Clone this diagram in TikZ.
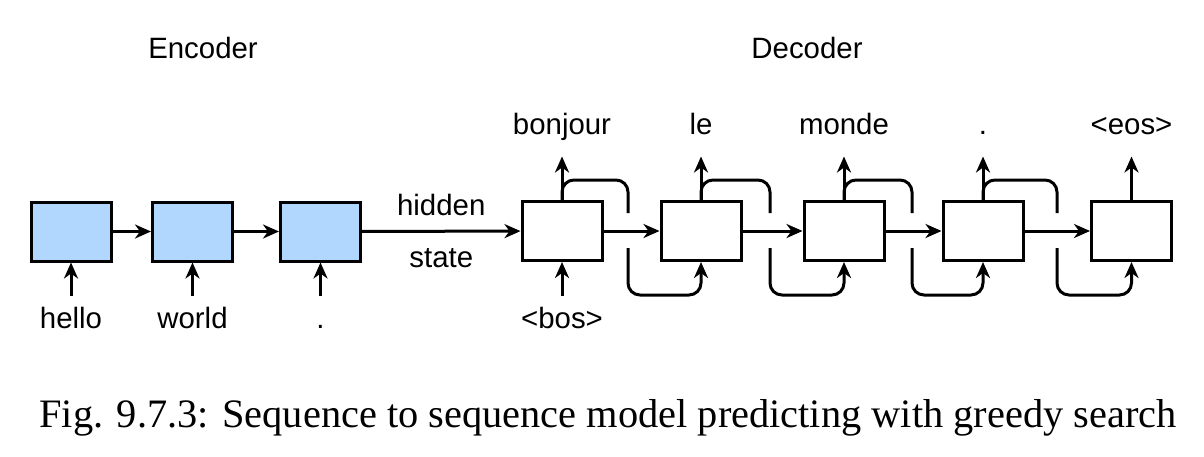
\documentclass[tikz,border=0pt]{standalone}
\usepackage{graphicx}
\usepackage{fontspec}
\setmainfont{Liberation Sans}
\newfontfamily\capfont{Liberation Serif}
\usetikzlibrary{arrows.meta}
\definecolor{encblue}{RGB}{178,215,255}

\begin{document}
\begin{tikzpicture}[x=.5pt,y=-.5pt,line width=1.5pt,
  >={Stealth[length=8pt,width=7pt,inset=2.5pt]},
  font=\fontsize{14.7}{17}\selectfont,
  rnn/.style={draw,minimum width=40pt,minimum height=29.5pt,inner sep=0pt},
  inword/.style={anchor=base,inner sep=0pt,text height=15.5pt},
  outword/.style={anchor=base,inner sep=0pt,text depth=10.5pt}]
\useasboundingbox (0,0) rectangle (1204,456);
\node[anchor=base] (enc) at (203,58) {Encoder};
\node[anchor=base] (dec) at (807,58) {Decoder};
% encoder
\node[rnn,fill=encblue] (e1) at (71,231.5) {};
\node[rnn,fill=encblue] (e2) at (192.5,231.5) {};
\node[rnn,fill=encblue] (e3) at (320.5,231.5) {};
\node[inword] (x1) at (71,328) {hello};
\node[inword] (x2) at (192.5,328) {world};
\node[inword] (x3) at (320.5,328) {.};
\draw[->] (x1.north) -- (e1.south);
\draw[->] (x2.north) -- (e2.south);
\draw[->] (x3.north) -- (e3.south);
\draw[->] (e1) -- (e2);
\draw[->] (e2) -- (e3);
% decoder
\node[rnn] (d1) at (562,231) {};
\node[rnn] (d2) at (701,231) {};
\node[rnn] (d3) at (844,231) {};
\node[rnn] (d4) at (983,231) {};
\node[rnn] (d5) at (1131.5,231) {};
\draw[->] (e3) -- (d1) node[midway,anchor=base,yshift=8pt] {hidden} node[midway,anchor=base,yshift=-18pt] {state};
\node[inword] (bos) at (562,328) {<bos>};
\draw[->] (bos.north) -- (d1.south);
\node[outword] (y1) at (562,134) {bonjour};
\node[outword] (y2) at (701,134) {le};
\node[outword] (y3) at (844,134) {monde};
\node[outword] (y4) at (983,134) {.};
\node[outword] (y5) at (1131.5,134) {<eos>};
\draw[->] (d1.north) -- (y1.south);
\draw[->] (d2.north) -- (y2.south);
\draw[->] (d3.north) -- (y3.south);
\draw[->] (d4.north) -- (y4.south);
\draw[->] (d5.north) -- (y5.south);
\draw[->] (d1) -- (d2);
\draw[->] (d2) -- (d3);
\draw[->] (d3) -- (d4);
\draw[->] (d4) -- (d5);
% feeding the prediction back in
\coordinate (g1) at (628,213); \coordinate (h1) at (628,248);
\coordinate (g2) at (770,213); \coordinate (h2) at (770,248);
\coordinate (g3) at (912,213); \coordinate (h3) at (912,248);
\coordinate (g4) at (1057,213); \coordinate (h4) at (1057,248);
\draw[rounded corners=6pt] (d1.north) -- ++(0,-20) -| (g1);
\draw[->,rounded corners=6pt] (h1) -- ++(0,47) -| (d2.south);
\draw[rounded corners=6pt] (d2.north) -- ++(0,-20) -| (g2);
\draw[->,rounded corners=6pt] (h2) -- ++(0,47) -| (d3.south);
\draw[rounded corners=6pt] (d3.north) -- ++(0,-20) -| (g3);
\draw[->,rounded corners=6pt] (h3) -- ++(0,47) -| (d4.south);
\draw[rounded corners=6pt] (d4.north) -- ++(0,-20) -| (g4);
\draw[->,rounded corners=6pt] (h4) -- ++(0,47) -| (d5.south);
% caption
\node[anchor=base west,inner sep=0pt] (cap) at (38,427) {\resizebox{568.5pt}{!}{\capfont\fontsize{20}{24}\selectfont Fig. 9.7.3: Sequence to sequence model predicting with greedy search}};
\end{tikzpicture}
\end{document}
